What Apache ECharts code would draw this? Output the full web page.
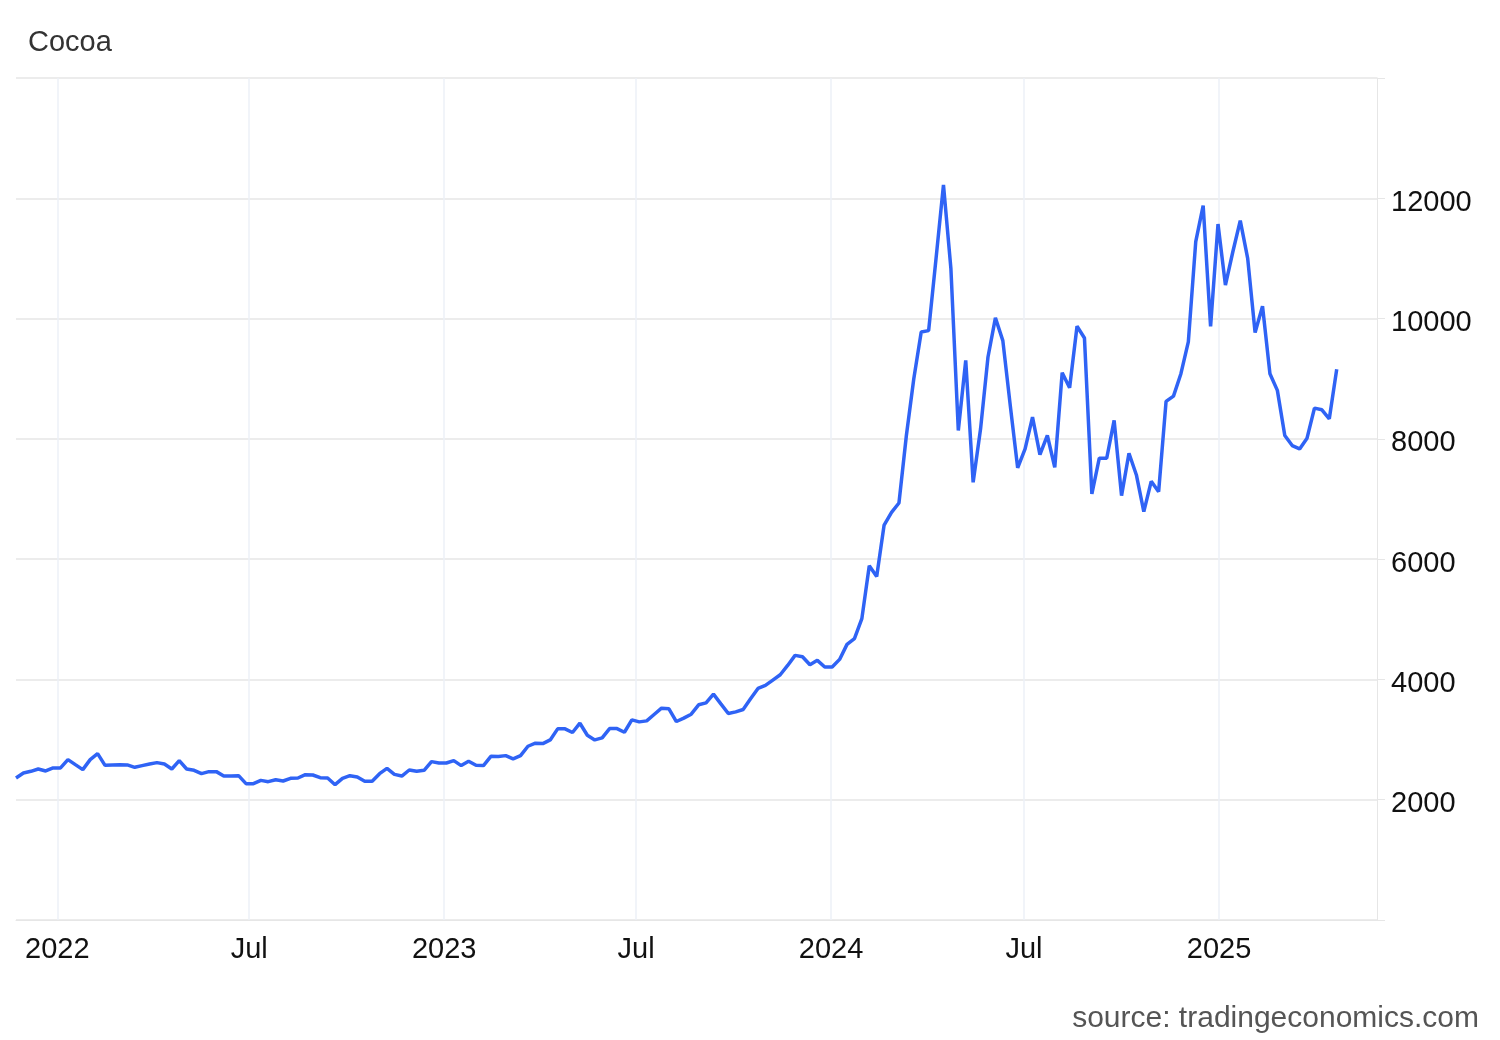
<!DOCTYPE html>
<html><head><meta charset="utf-8">
<script src="https://cdn.jsdelivr.net/npm/echarts@6/dist/echarts.min.js"></script>
<style>html,body{margin:0;padding:0;background:#fff}#c{width:1500px;height:1040px}</style>
</head><body><div id="c"></div>
<script>
const startDate = '2021-11-23';
const values = [
2361,2444,2472,2511,2478,2528,2528,2667,2583,2500,2667,2767,2572,2578,2583,2578,2539,2567,2595,2617,
2594,2511,2650,2511,2489,2433,2467,2467,2394,2394,2400,2267,2267,2322,2300,2333,2311,2356,2361,2417,
2411,2367,2361,2250,2356,2400,2378,2306,2306,2433,2522,2422,2394,2494,2472,2489,
2633,2611,2611,2650,2567,2639,2572,2567,2722,2717,2733,2678,2733,2889,2939,2933,2994,3178,3178,3117,
3272,3072,2994,3028,3183,3183,3122,3328,3294,3311,3417,3522,3511,3300,3356,3422,3578,3611,3756,3594,
3433,3461,3500,3678,3850,3900,3989,4078,4233,4400,4378,4244,4317,4206,4206,4333,4583,4678,5011,5889,5711,
6567,6778,6933,8056,9000,9778,9800,11000,12222,10833,8139,9306,7278,8167,9361,10011,9633,8556,7517,7833,
8361,7739,8056,7528,9100,8850,9872,9678,7083,7678,7678,8306,
7056,7761,7400,6789,7294,7122,8622,8711,9083,9611,11278,11878,9872,11572,10556,11111,11628,11000,9767,10206,
9083,8806,8056,7889,7833,8011,8511,8483,8333,9156
];
const xTickDates = ['2022-01-01','2022-07-01','2023-01-01','2023-07-01','2024-01-01','2024-07-01','2025-01-01'];
const xTickLabels = ['2022','Jul','2023','Jul','2024','Jul','2025'];
const yTicks = [2000,4000,6000,8000,10000,12000];

const t0 = Date.parse(startDate+'T00:00:00Z');
const week = 7*86400000;
const data = values.map((v,i)=>[t0+i*week, v]);
const tickMs = xTickDates.map(d=>Date.parse(d+'T00:00:00Z'));
const F = '"Liberation Sans", Arial, sans-serif';

const chart = echarts.init(document.getElementById('c'));
chart.setOption({
  animation:false,
  title:{text:'Cocoa',left:23,top:23,textStyle:{fontFamily:F,fontSize:29,fontWeight:'normal',color:'#333'}},
  graphic:[{type:'text',right:21,top:1004,style:{text:'source: tradingeconomics.com',font:'30px "Liberation Sans", Arial, sans-serif',fill:'#555'}}],
  grid:{left:16,right:123,top:78,bottom:120},
  xAxis:{type:'value',min:t0,max:Date.parse('2025-05-30T00:00:00Z'),
    axisLine:{show:true,lineStyle:{color:'#e6e6e6'}},
    axisTick:{show:false,customValues:tickMs},
    splitLine:{show:false},
    axisLabel:{customValues:tickMs,fontFamily:F,fontSize:29,color:'#111',margin:15,
      formatter:v=>xTickLabels[tickMs.indexOf(v)] ?? ''}},
  yAxis:{type:'value',position:'right',min:0,max:14000,interval:2000,
    axisLine:{show:true,lineStyle:{color:'#e6e6e6'}},
    axisTick:{show:true,length:8,lineStyle:{color:'#e6e6e6'}},
    splitLine:{lineStyle:{color:'#e6e6e6',width:1.5}},
    axisLabel:{fontFamily:F,fontSize:29,color:'#111',margin:14,verticalAlign:'top',lineHeight:29,padding:[-10,0,0,0],
      formatter:v=>yTicks.includes(v)?String(v):''}},
  series:[
    {type:'line',data:data,showSymbol:false,lineStyle:{color:'#2f63f5',width:3.5},
     markLine:{silent:true,symbol:'none',label:{show:false},lineStyle:{color:'#edf1f7',width:1.5,type:'solid'},
       data:tickMs.map(t=>({xAxis:t})),z:0}}
  ]
});
</script></body></html>
